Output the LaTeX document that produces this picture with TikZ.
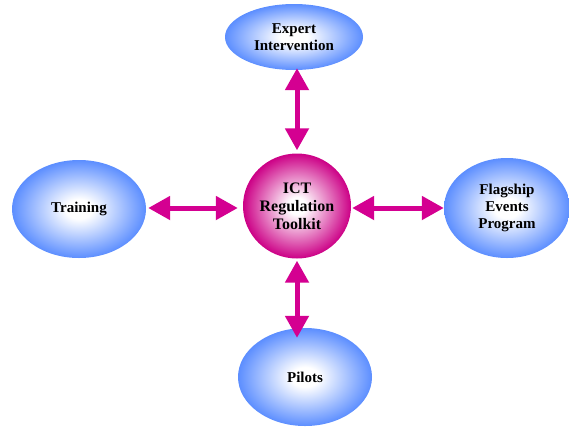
\documentclass[tikz,border=0pt]{standalone}
\usepackage{fontspec}
\setmainfont{Liberation Serif}
\usetikzlibrary{shapes.geometric,arrows.meta}
\definecolor{bluec}{RGB}{92,142,255}
\definecolor{magc}{RGB}{204,0,134}
\definecolor{arrc}{RGB}{212,0,145}
\pgfdeclareradialshading{blueball}{\pgfpoint{0bp}{0bp}}{color(0bp)=(white); color(5bp)=(white); color(25bp)=(bluec); color(50bp)=(bluec)}
\pgfdeclareradialshading{magball}{\pgfpoint{0bp}{0bp}}{color(0bp)=(white); color(4bp)=(white); color(25bp)=(magc); color(50bp)=(magc)}
\tikzset{
  bubble/.style={ellipse, shading=blueball, align=center, inner sep=0pt,
    font=\fontsize{15}{17}\selectfont\bfseries},
  hub/.style={ellipse, shading=magball, align=center, inner sep=0pt,
    font=\fontsize{16}{18}\selectfont\bfseries},
  link/.style={arrc, line width=5pt,
    {Triangle[width=23pt,length=22pt]}-{Triangle[width=23pt,length=22pt]}}
}
\begin{document}
\begin{tikzpicture}[x=1pt,y=1pt]
\useasboundingbox (0,0) rectangle (569,-426);
\node[hub, minimum width=108pt, minimum height=105pt] (hub) at (297,-206) {ICT\\Regulation\\Toolkit};
\node[bubble, minimum width=138pt, minimum height=66pt] (expert) at (294,-37) {Expert\\Intervention};
\node[bubble, minimum width=134pt, minimum height=98pt] (training) at (79,-209) {Training};
\node[bubble, minimum width=126pt, minimum height=100pt] (flag) at (507,-208) {Flagship\\Events\\Program};
\node[bubble, minimum width=134pt, minimum height=98pt] (pilots) at (305,-377) {Pilots};
\draw[link, shorten <=3pt, shorten >=-2pt] (hub.north) -- (hub.north |- expert.south);
\draw[link, shorten <=5pt, shorten >=2pt] (hub.west |- 0,-208) -- (training.east |- 0,-208);
\draw[link, shorten <=1pt] (hub.east |- 0,-208) -- (flag.west |- 0,-208);
\draw[link, shorten <=2pt, shorten >=-10pt] (hub.south) -- (hub.south |- pilots.north);
\end{tikzpicture}
\end{document}
